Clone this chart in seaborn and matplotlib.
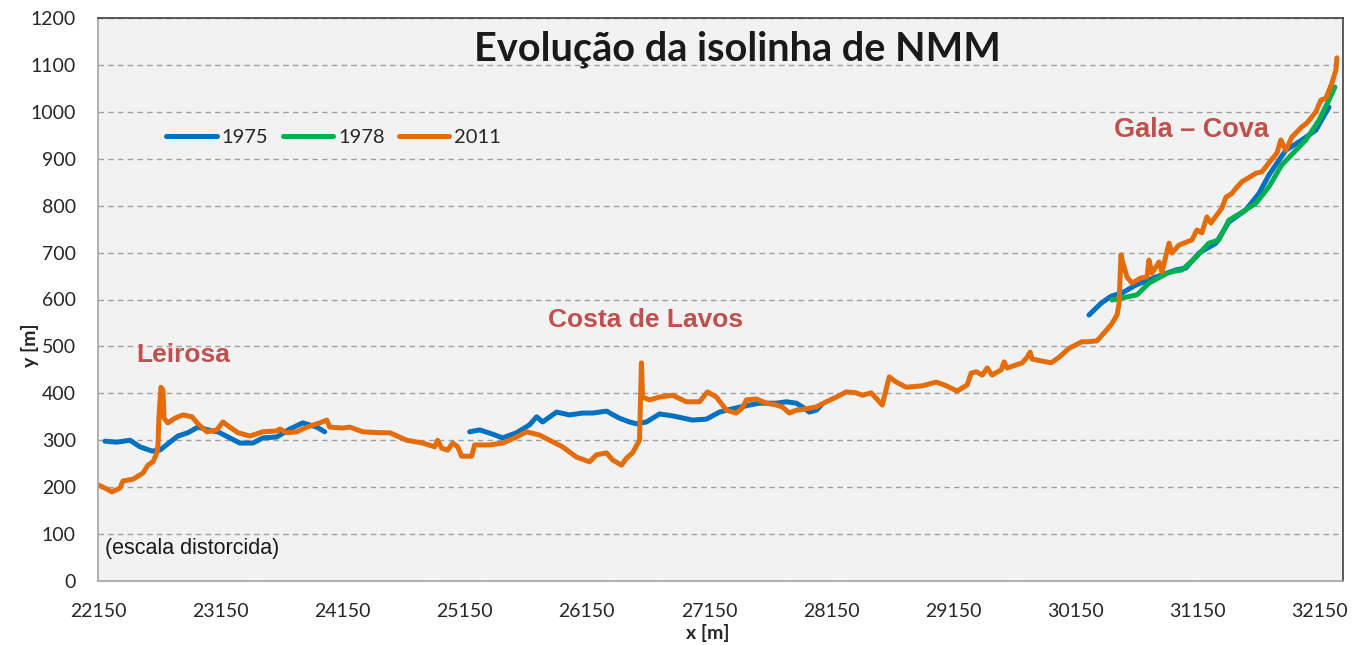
import matplotlib
matplotlib.use("Agg")
import matplotlib.pyplot as plt
import seaborn as sns
import pandas as pd

# ---- data ----
x2011 = [22150, 22207, 22264, 22330, 22354, 22436, 22518, 22559, 22600, 22632, 22641, 22649, 22665, 22682, 22690,
         22722, 22780, 22845, 22919, 22968, 23041, 23123, 23172, 23229, 23295, 23393, 23499, 23614, 23638, 23695,
         23777, 23859, 23965, 24023, 24047, 24153, 24211, 24317, 24456, 24538, 24677, 24808, 24906, 24930, 24963,
         25012, 25053, 25094, 25126, 25208, 25233, 25355, 25462, 25576, 25658, 25764, 25846, 25952, 26067, 26173,
         26230, 26312, 26361, 26435, 26476, 26525, 26582, 26598, 26607, 26664, 26746, 26852, 26966, 27073, 27138,
         27212, 27293, 27375, 27424, 27457, 27539, 27620, 27702, 27751, 27808, 27866, 27948, 28029, 28111, 28193,
         28275, 28356, 28406, 28479, 28544, 28569, 28626, 28683, 28765, 28896, 29011, 29076, 29182, 29264, 29297,
         29338, 29387, 29428, 29468, 29542, 29567, 29591, 29714, 29755, 29779, 29796, 29910, 29951, 30017, 30098,
         30204, 30261, 30327, 30368, 30442, 30491, 30507, 30523, 30532, 30572, 30613, 30687, 30736, 30752, 30777,
         30834, 30858, 30916, 30940, 30997, 31104, 31144, 31185, 31226, 31259, 31349, 31382, 31431, 31463, 31513,
         31627, 31676, 31733, 31799, 31831, 31872, 31921, 32003, 32044, 32118, 32159, 32200, 32249, 32282, 32290]
y2011 = [205, 198, 190, 198, 213, 217, 230, 247, 254, 273, 290, 350, 413, 407, 347,
         337, 347, 354, 350, 335, 318, 322, 339, 328, 316, 309, 318, 320, 324, 316,
         318, 328, 337, 343, 328, 326, 328, 318, 316, 316, 300, 294, 286, 300, 283,
         279, 294, 286, 266, 266, 290, 290, 294, 307, 318, 311, 300, 286, 264, 254,
         269, 273, 258, 247, 262, 273, 300, 465, 392, 386, 392, 396, 382, 382, 403,
         392, 364, 358, 369, 386, 388, 379, 375, 371, 358, 364, 367, 371, 382, 392,
         403, 401, 396, 401, 382, 375, 435, 424, 413, 416, 424, 418, 405, 418, 443,
         446, 439, 454, 439, 450, 467, 454, 465, 477, 488, 473, 467, 465, 477, 496,
         510, 510, 512, 524, 546, 567, 592, 695, 684, 648, 635, 646, 648, 684, 656,
         680, 658, 720, 699, 716, 727, 748, 742, 776, 763, 795, 818, 826, 837, 851,
         869, 872, 891, 912, 940, 918, 946, 968, 976, 1000, 1025, 1029, 1061, 1089, 1115]

# 1975 comes in three separate stretches
x1975_a = [22207, 22305, 22412, 22493, 22592, 22657, 22739, 22804, 22886, 22968, 23082, 23131, 23229, 23311,
           23417, 23499, 23614, 23720, 23826, 23941, 24006]
y1975_a = [298, 296, 300, 286, 277, 279, 296, 309, 316, 328, 320, 318, 305, 294,
           294, 305, 307, 324, 337, 328, 318]
x1975_b = [25192, 25274, 25380, 25462, 25576, 25683, 25740, 25789, 25903, 26010, 26116, 26198, 26312, 26418,
           26500, 26558, 26639, 26746, 26852, 27015, 27130, 27236, 27342, 27481, 27563, 27702, 27784, 27866,
           27915, 27972, 28029, 28070]
y1975_b = [318, 322, 313, 305, 316, 333, 350, 339, 360, 354, 358, 358, 362, 347,
           339, 335, 339, 356, 352, 343, 345, 360, 367, 375, 379, 379, 382, 379,
           371, 360, 364, 375]
x1975_c = [30261, 30360, 30442, 30532, 30646, 30810, 30973, 31054, 31161, 31300, 31406, 31545, 31652, 31733,
           31816, 31872, 32003, 32118, 32225]
y1975_c = [567, 592, 607, 614, 631, 648, 663, 667, 699, 720, 765, 791, 826, 865,
           897, 918, 940, 961, 1010]

x1978 = [30450, 30564, 30654, 30752, 30916, 31022, 31136, 31242, 31324, 31406, 31513, 31627, 31733, 31839,
         31954, 32036, 32143, 32225, 32274]
y1978 = [599, 605, 610, 635, 658, 663, 690, 720, 727, 769, 786, 805, 840, 887,
         918, 940, 982, 1025, 1053]

series_names = ["1975", "1978", "2011"]
series_colors = ["#0070C0", "#00B050", "#E46C0A"]
x_ticks = [22150, 23150, 24150, 25150, 26150, 27150, 28150, 29150, 30150, 31150, 32150]
y_ticks = [0, 100, 200, 300, 400, 500, 600, 700, 800, 900, 1000, 1100, 1200]

title_text = "Evolução da isolinha de NMM"
places = ["Leirosa", "Costa de Lavos", "Gala – Cova"]
note_text = "(escala distorcida)"

# ---- long table for seaborn ----
frames = [
    pd.DataFrame({"x": x1975_a, "y": y1975_a, "ano": "1975", "seg": "1975a"}),
    pd.DataFrame({"x": x1975_b, "y": y1975_b, "ano": "1975", "seg": "1975b"}),
    pd.DataFrame({"x": x1975_c, "y": y1975_c, "ano": "1975", "seg": "1975c"}),
    pd.DataFrame({"x": x1978, "y": y1978, "ano": "1978", "seg": "1978"}),
    pd.DataFrame({"x": x2011, "y": y2011, "ano": "2011", "seg": "2011"}),
]
df = pd.concat(frames, ignore_index=True)

sns.set_theme(style="white")
plt.rcParams["font.family"] = ["Lato", "DejaVu Sans"]

fig = plt.figure(figsize=(13.61, 6.45), dpi=100)
ax = fig.add_axes([98 / 1361, 1 - 581 / 645, (1343 - 98) / 1361, (581 - 18) / 645])
ax.set_facecolor("#F2F2F2")

LW = 3.6
sns.lineplot(data=df, x="x", y="y", hue="ano", units="seg", estimator=None, sort=False,
             hue_order=series_names, palette=dict(zip(series_names, series_colors)),
             linewidth=LW, ax=ax, legend=True)

ax.set_xlim(22150, 32340)
ax.set_ylim(0, 1200)
ax.set_xticks(x_ticks)
ax.set_yticks(y_ticks)
ax.tick_params(axis="both", labelsize=14, length=5, width=1, direction="out",
               color="#A6A6A6", labelcolor="#262626")
ax.tick_params(axis="x", pad=11)
ax.tick_params(axis="y", pad=11)

ax.yaxis.grid(True, linestyle=(0, (4, 3)), color="#A0A0A0", linewidth=1)
ax.xaxis.grid(False)
ax.set_axisbelow(True)

for side in ["left", "bottom"]:
    ax.spines[side].set_color("#A6A6A6")
    ax.spines[side].set_linewidth(1.2)
for side in ["top", "right"]:
    ax.spines[side].set_color("#404040")
    ax.spines[side].set_linewidth(1.2)

ax.set_xlabel("x [m]", fontsize=14, fontweight="bold", va="center")
ax.set_ylabel("y [m]", fontsize=14, fontweight="bold", va="center")
ax.xaxis.set_label_coords((708 - 98) / 1245, -(633 - 581) / 563)
ax.yaxis.set_label_coords(-(98 - 30) / 1245, (581 - 345) / 563)

leg = ax.legend(loc="center left", bbox_to_anchor=(0.055, 0.787), ncol=3, frameon=False,
                fontsize=14.5, handlelength=2.5, handletextpad=0.25, columnspacing=0.7,
                borderpad=0, borderaxespad=0)
for line in leg.get_lines():
    line.set_linewidth(LW)

ax.text(27383, 1134, title_text, ha="center", va="center", fontsize=28.5, fontweight="bold",
        color="#1A1A1A")
red = "#C0504D"
ax.text(22845, 482, places[0], ha="center", va="center", fontsize=19, fontweight="bold",
        color=red, family=["Liberation Sans", "DejaVu Sans"])
ax.text(26631, 556, places[1], ha="center", va="center", fontsize=19, fontweight="bold",
        color=red, family=["Liberation Sans", "DejaVu Sans"])
ax.text(31096, 961, places[2], ha="center", va="center", fontsize=19.5, fontweight="bold",
        color=red, family=["Liberation Sans", "DejaVu Sans"])
ax.text(22207, 70, note_text, ha="left", va="center", fontsize=15.5, color="#1A1A1A",
        family=["Liberation Sans", "DejaVu Sans"])

fig.savefig("out.png", dpi=100, facecolor="white")
